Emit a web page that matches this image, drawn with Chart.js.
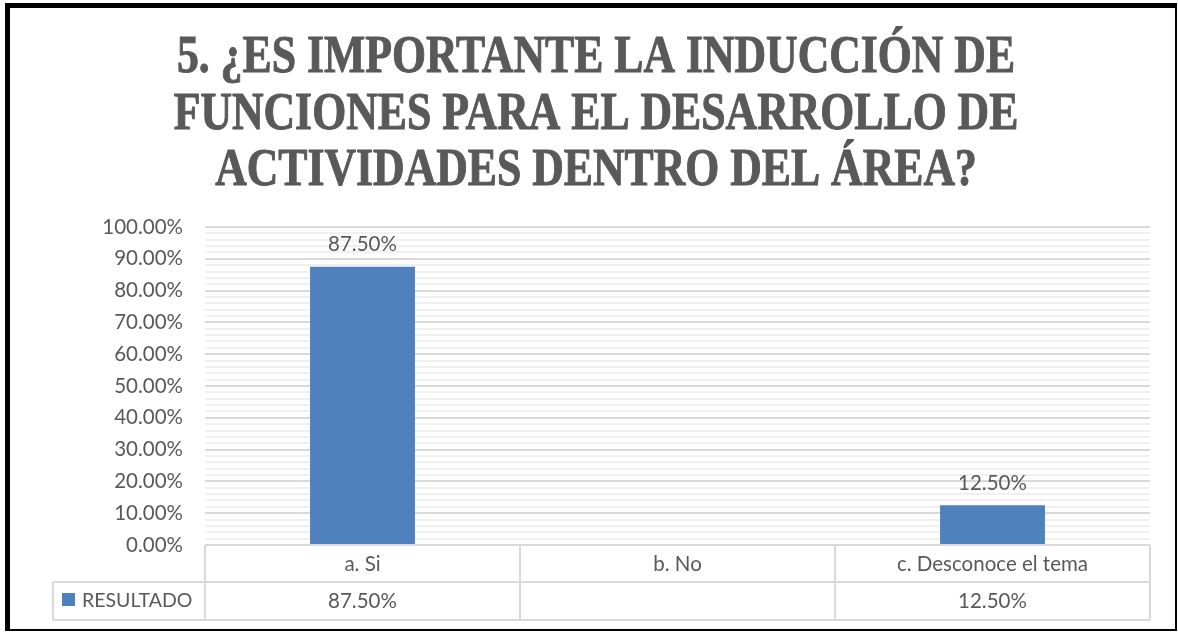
<!DOCTYPE html>
<html>
<head>
<meta charset="utf-8">
<script src="https://cdn.jsdelivr.net/npm/chart.js@4"></script>
<style>
  html, body { margin: 0; padding: 0; background: #fff; }
  #frame {
    position: absolute; left: 5px; top: 3px;
    width: 1165px; height: 621px;
    border-top: 5px solid #000; border-left: 5px solid #000;
    border-right: 2px solid #000; border-bottom: 2px solid #000;
    background: #fff;
  }
</style>
</head>
<body>
<div id="frame"><canvas id="chart" width="1165" height="621"></canvas></div>
<script>
// Datos
const titleLines = [
  '5. ¿ES IMPORTANTE LA INDUCCIÓN DE',
  'FUNCIONES PARA EL DESARROLLO DE',
  'ACTIVIDADES DENTRO DEL ÁREA?'
];
const categories = ['a. Si', 'b. No', 'c. Desconoce el tema'];
const seriesName = 'RESULTADO';
const resultado = [0.875, null, 0.125];

const textColor = '#595959';
const barColor = '#4F81BD';
const tableLine = '#d9d9d9';
const bodyFont = 'Lato, "Open Sans", sans-serif';
const bodySize = 20.5;

function pct(v) {
  return (v * 100).toFixed(2) + '%';
}

// titulo (fuente serif estrechada, parecida a Cambria)
const titleDraw = {
  id: 'titleDraw',
  afterDraw(chart) {
    const ctx = chart.ctx;
    ctx.save();
    ctx.font = 'bold 53px "Liberation Serif", serif';
    ctx.fillStyle = textColor;
    ctx.strokeStyle = textColor;
    ctx.lineWidth = 1;
    ctx.textAlign = 'center';
    ctx.textBaseline = 'alphabetic';
    titleLines.forEach((line, i) => {
      ctx.save();
      ctx.translate(586, 64 + i * 56.5);
      ctx.scale(0.825, 1);
      ctx.fillText(line, 0, 0);
      ctx.strokeText(line, 0, 0);
      ctx.restore();
    });
    ctx.restore();
  }
};

// etiquetas encima de las barras
const barLabels = {
  id: 'barLabels',
  afterDatasetsDraw(chart) {
    const ctx = chart.ctx;
    const meta = chart.getDatasetMeta(0);
    ctx.save();
    ctx.font = bodySize + 'px ' + bodyFont;
    ctx.fillStyle = textColor;
    ctx.textAlign = 'center';
    ctx.textBaseline = 'bottom';
    meta.data.forEach((bar, i) => {
      if (resultado[i] == null) return;
      ctx.fillText(pct(resultado[i]), bar.x, bar.y - 12);
    });
    ctx.restore();
  }
};

// tabla de datos bajo el eje
const dataTable = {
  id: 'dataTable',
  afterDraw(chart) {
    const ctx = chart.ctx;
    const x = chart.scales.x;
    const area = chart.chartArea;
    const row1Top = area.bottom;
    const row2Top = x.bottom;
    const row2Bottom = row2Top + 38;
    const step = (x.right - x.left) / categories.length;
    ctx.save();
    ctx.strokeStyle = tableLine;
    ctx.lineWidth = 2;
    ctx.beginPath();
    ctx.moveTo(x.left, row1Top); ctx.lineTo(x.right, row1Top);
    ctx.moveTo(43, row2Top); ctx.lineTo(x.right, row2Top);
    ctx.moveTo(43, row2Bottom); ctx.lineTo(x.right, row2Bottom);
    ctx.moveTo(43, row2Top); ctx.lineTo(43, row2Bottom);
    for (let i = 0; i <= categories.length; i++) {
      const px = Math.round(x.left + i * step);
      ctx.moveTo(px, row1Top); ctx.lineTo(px, row2Bottom);
    }
    ctx.stroke();

    // leyenda
    ctx.fillStyle = barColor;
    ctx.fillRect(52, row2Top + 11, 13, 13);
    ctx.font = '19.5px ' + bodyFont;
    ctx.fillStyle = textColor;
    ctx.textBaseline = 'middle';
    ctx.textAlign = 'left';
    ctx.fillText(seriesName, 72, row2Top + 19);

    // valores
    ctx.font = bodySize + 'px ' + bodyFont;
    ctx.textAlign = 'center';
    resultado.forEach((v, i) => {
      if (v == null) return;
      ctx.fillText(pct(v), x.getPixelForValue(i), row2Top + 19);
    });
    ctx.restore();
  }
};

new Chart(document.getElementById('chart'), {
  type: 'bar',
  data: {
    labels: categories,
    datasets: [{
      label: seriesName,
      data: resultado,
      backgroundColor: barColor,
      categoryPercentage: 1,
      barPercentage: 0.333
    }]
  },
  options: {
    responsive: false,
    animation: false,
    layout: { padding: { left: 0, right: 25, top: 219, bottom: 47 } },
    plugins: {
      legend: { display: false },
      tooltip: { enabled: false },
      title: { display: false }
    },
    scales: {
      x: {
        grid: { display: false, drawTicks: false },
        border: { display: false },
        ticks: {
          color: textColor,
          font: { family: bodyFont, size: bodySize },
          padding: 7
        },
        afterFit(scale) { scale.height = 37; }
      },
      y: {
        min: 0,
        max: 1,
        border: { display: false },
        grid: {
          drawTicks: false,
          lineWidth: 2,
          color(c) {
            const v = Math.round(c.tick.value * 100);
            return v % 10 === 0 ? '#d9d9d9' : '#f0f0f0';
          }
        },
        ticks: {
          stepSize: 0.02,
          autoSkip: false,
          color: textColor,
          font: { family: bodyFont, size: bodySize },
          padding: 22,
          callback(v) {
            const p = Math.round(v * 100);
            return p % 10 === 0 ? pct(v) : '';
          }
        },
        afterFit(scale) { scale.width = 195; }
      }
    }
  },
  plugins: [titleDraw, barLabels, dataTable]
});
</script>
</body>
</html>
